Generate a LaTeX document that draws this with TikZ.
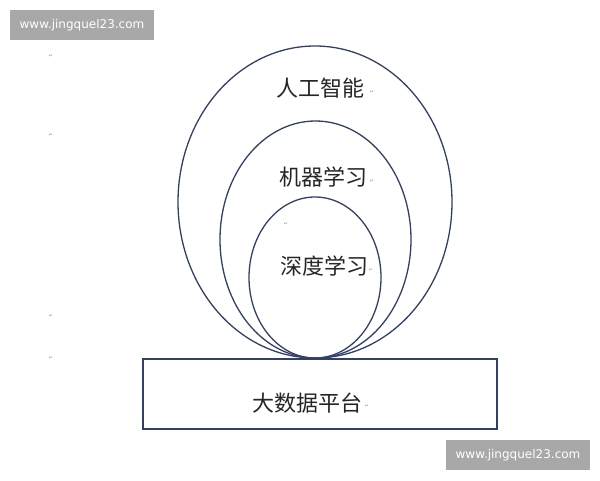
\documentclass[tikz,border=0pt]{standalone}
\usepackage{fontspec}
\newfontfamily\cjkfam{Noto Sans CJK SC}
\newfontfamily\retfam{DejaVu Sans}
\newfontfamily\wmfam{DejaVu Sans}
\usetikzlibrary{shapes.geometric}
\definecolor{navy}{RGB}{50,64,104}
\definecolor{wmgray}{RGB}{168,168,168}
\definecolor{markgray}{RGB}{150,150,150}
\tikzset{
  ring/.style={draw=navy, line width=1.3pt, ellipse, inner sep=0pt, outer sep=0pt},
  cjklabel/.style={font=\cjkfam\fontsize{22}{26}\selectfont, text=black!85, inner sep=0pt},
  ret/.style={font=\retfam\fontsize{5}{6}\selectfont, text=markgray, inner sep=0pt},
  wmbox/.style={fill=wmgray, minimum width=144pt, minimum height=30pt, inner sep=0pt,
    font=\wmfam\fontsize{12}{14}\selectfont, text=white},
}
\begin{document}
\begin{tikzpicture}[x=1pt,y=-1pt]
\useasboundingbox (0,0) rectangle (600,480);
\fill[white] (0,0) rectangle (600,480);
% watermarks
\node[wmbox] (wm1) at (82,25) {www.jingquel23.com};
\node[wmbox] (wm2) at (518,455) {www.jingquel23.com};
% ellipses
\node[ring, minimum width=274pt, minimum height=312pt] (ai) at (315,202) {};
\node[ring, minimum width=191pt, minimum height=237pt] (ml) at (315.5,239.5) {};
\node[ring, minimum width=132pt, minimum height=161pt] (dl) at (315,277.5) {};
% platform
\node[draw=navy, line width=1.3pt, minimum width=354pt, minimum height=70pt, inner sep=0pt] (bd) at (320,394) {};
% labels
\node[cjklabel] (t1) at (320,88) {人工智能};
\node[cjklabel] (t2) at (323,177) {机器学习};
\node[cjklabel] (t3) at (324,266) {深度学习};
\node[cjklabel] (t4) at (307,403) {大数据平台};
% return marks
\node[ret] (r1) at (372,92) {↵};
\node[ret] (r2) at (372,181) {↵};
\node[ret] (r3) at (371,270) {↵};
\node[ret] (r4) at (286,224) {↵};
\node[ret] (r5) at (367,406) {↵};
\node[ret] (r6) at (51,56) {↵};
\node[ret] (r7) at (51,135) {↵};
\node[ret] (r8) at (51,316) {↵};
\node[ret] (r9) at (51,358) {↵};
\end{tikzpicture}
\end{document}
